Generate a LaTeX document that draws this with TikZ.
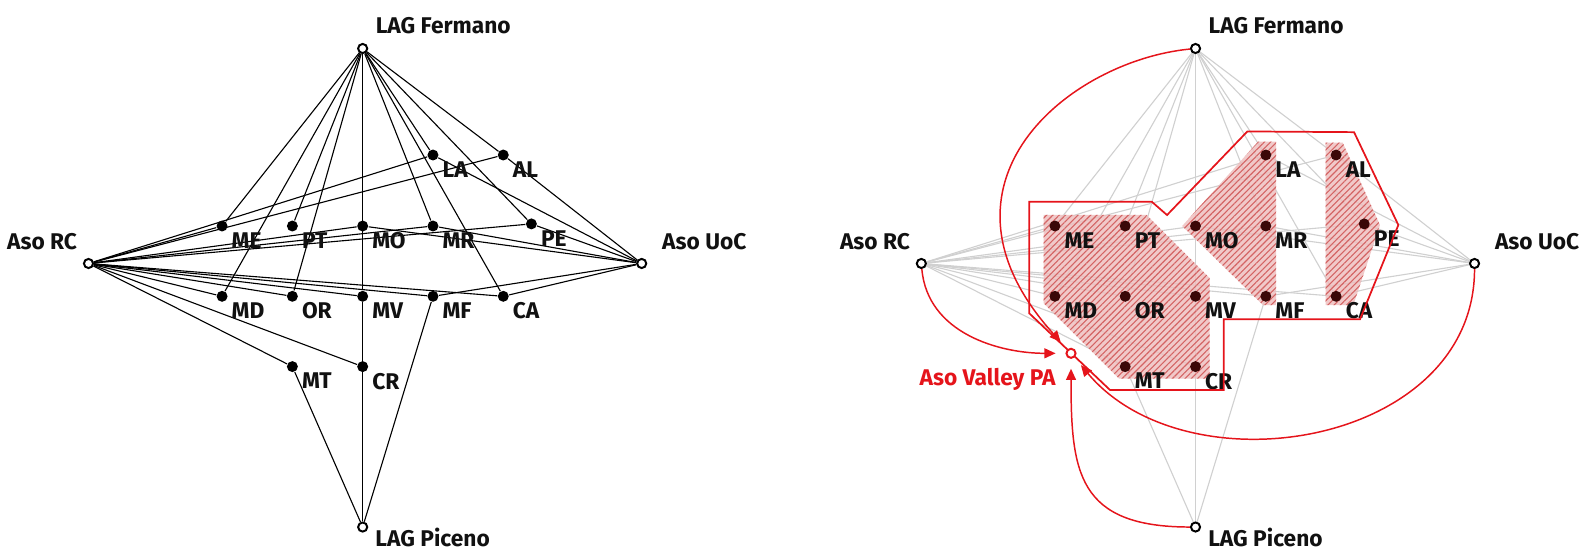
\documentclass[tikz,border=0pt]{standalone}
\usepackage{fontspec}
\setmainfont{Fira Sans}
\usetikzlibrary{arrows.meta,backgrounds,positioning,patterns.meta}
\definecolor{cInk}{HTML}{111111}
\definecolor{cTie}{HTML}{D0D0D0}
\definecolor{cDot}{HTML}{3A0808}
\definecolor{cRed}{HTML}{E5141B}
\definecolor{cFill}{HTML}{EDBCBC}
\definecolor{cHatch}{HTML}{D46464}
\newcommand{\munilist}{LA/1/1.01, AL/2/1.01, ME/-2/0, PT/-1/0, MO/0/0, MR/1/0, PE/2.4/0.03, MD/-2/-1, OR/-1/-1, MV/0/-1, MF/1/-1, CA/2/-1, MT/-1/-2, CR/0/-2}
\newcommand{\orglist}{F/0/2.525, R/-3.9/-0.533, U/3.969/-0.533, P/0/-4.282}
\newcommand{\tielist}{F/ME, F/MD, F/PT, F/OR, F/MV, F/LA, F/MR, F/CA, F/PE, F/AL, R/LA, R/AL, R/ME, R/MO, R/MR, R/PE, R/MD, R/OR, R/MV, R/MF, R/CA, R/MT, R/CR, U/AL, U/LA, U/PE, U/MR, U/MO, U/MF, U/CA, P/MT, P/MV, P/MF}
\tikzset{
  every node/.style={font=\fontsize{9.2}{11}\selectfont\bfseries, text=cInk},
  muni/.style={circle, fill=black, inner sep=0pt, minimum size=0.156cm},
  org/.style={circle, draw=black, fill=white, line width=0.8pt, inner sep=0pt, minimum size=0.13cm},
  mlbl/.style={inner sep=0pt},
  olbl/.style={inner sep=0pt},
  tie/.style={line width=0.45pt, draw=black},
  gtie/.style={line width=0.45pt, draw=cTie},
  hatch/.style={preaction={fill=cFill, fill opacity=0.8}, pattern={Lines[angle=45,distance=1.8pt,line width=0.45pt]}, pattern color=cHatch},
  outl/.style={draw=cRed, line width=0.7pt, line join=miter},
  varr/.style={-{Triangle[length=4.5pt,width=4pt]}, draw=cRed, line width=0.6pt, shorten >=4pt},
}
\begin{document}
\begin{tikzpicture}[x=1cm,y=1cm]
\useasboundingbox (0,0) rectangle (22.589,7.838);
% left: full affiliation network
\begin{scope}[shift={(5.159,4.623)}]
\foreach \n/\x/\y in \munilist {
  \node[muni] (a\n) at (\x,\y) {};
  \node[mlbl, below right=0.085cm and 0.13cm of a\n.center] (a\n-t) {\n};
}
\foreach \n/\x/\y in \orglist {\node[org] (a\n) at (\x,\y) {};}
\node[olbl, anchor=base west] (aF-t) at (0.18,2.74) {LAG Fermano};
\node[olbl, anchor=base east] (aR-t) at (-4.056,-0.333) {Aso RC};
\node[olbl, anchor=base west] (aU-t) at (4.254,-0.333) {Aso UoC};
\node[olbl, anchor=north west] (aP-t) at (0.175,-4.29) {LAG Piceno};
\begin{scope}[on background layer]
\foreach \o/\m in \tielist {\draw[tie] (a\o) -- (a\m);}
\end{scope}
\end{scope}
% right: same network, groups and the valley association
\begin{scope}[shift={(17.006,4.623)}]
\foreach \n/\x/\y in \munilist {
  \node[muni, fill=cDot] (b\n) at (\x,\y) {};
  \node[mlbl, below right=0.085cm and 0.13cm of b\n.center] (b\n-t) {\n};
}
\foreach \n/\x/\y in \orglist {\node[org] (b\n) at (\x,\y) {};}
\node[olbl, anchor=base west] (bF-t) at (0.18,2.74) {LAG Fermano};
\node[olbl, anchor=base east] (bR-t) at (-4.056,-0.333) {Aso RC};
\node[olbl, anchor=base west] (bU-t) at (4.254,-0.333) {Aso UoC};
\node[olbl, anchor=north west] (bP-t) at (0.175,-4.29) {LAG Piceno};
\begin{scope}[on background layer]
\foreach \o/\m in \tielist {\draw[gtie] (b\o) -- (b\m);}
\fill[hatch] (-2.16,0.16) -- (-0.7,0.16) -- (0.2,-0.74) -- (0.2,-2.17) -- (-1.09,-2.17) -- (-2.16,-1.1) -- cycle;
\fill[hatch] (-0.19,0) -- (0.89,1.2) -- (1.145,1.2) -- (1.145,-1.125) -- (0.96,-1.125) -- cycle;
\fill[hatch] (1.852,1.185) -- (2.094,1.185) -- (2.624,0.014) -- (2.245,-1.124) -- (1.852,-1.124) -- cycle;
\end{scope}
\draw[outl] (-2.365,0.346) -- (-0.623,0.346) -- (-0.405,0.156) -- (0.737,1.345) -- (2.255,1.335) -- (2.885,0.014) -- (2.34,-1.327) -- (0.403,-1.327) -- (0.403,-2.333) -- (-1.216,-2.333) -- (-2.365,-1.242) -- cycle;
\node[org, draw=cRed] (pa) at (-1.771,-1.811) {};
\node[olbl, anchor=base east, text=cRed] (pa-t) at (-1.984,-2.262) {Aso Valley PA};
\draw[varr] (bR) to[out=-85, in=180] (pa);
\draw[varr] (bF) .. controls (-1.8,2.35) and (-3.95,0.6) .. (pa);
\draw[varr] (bU) to[out=-90, in=-50, looseness=1.1] (pa);
\draw[varr] (bP) to[out=180, in=-90, looseness=1.4] (pa);
\end{scope}
\end{tikzpicture}
\end{document}
